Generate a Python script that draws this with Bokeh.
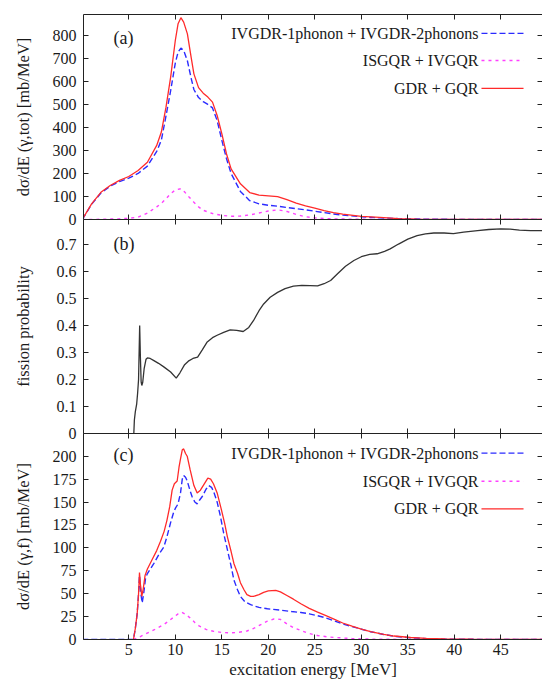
from bokeh.plotting import figure
from bokeh.layouts import column
from bokeh.models import Range1d, LinearAxis, FixedTicker, Label, CustomJSTickFormatter
from bokeh.embed import file_html
from bokeh.resources import INLINE

# ---------------- data ----------------
# panel (a): total photoabsorption cross section [mb/MeV]
A_E = [0, 1, 2, 3, 4, 5, 6, 7, 8, 8.5, 9, 9.5, 10, 10.3, 10.6, 10.9, 11.3, 11.7, 12.0,
       12.5, 13.0, 13.5, 14.0, 14.5, 15.0, 15.5, 16.0, 17.0, 18.0, 19.0, 20.0, 21.0,
       22.0, 23.0, 24.0, 25.0, 26.0, 27.0, 28.0, 30.0, 32.0, 34.0, 36.0, 40.0, 45.0, 49.5]
A_RED = [0, 68, 118, 148, 170, 187, 213, 249, 322, 380, 488, 619, 778, 851, 877, 858, 807,
         706, 633, 573, 549, 532, 510, 452, 373, 286, 220, 155, 117, 106, 103, 99,
         86, 71, 59, 49, 39, 30, 23, 14, 9, 4, 2, 0.5, 0, 0]
A_BLUE = [0, 66, 115, 145, 165, 180, 200, 232, 296, 345, 450, 560, 680, 728, 745, 735, 690,
          615, 565, 530, 512, 500, 485, 430, 345, 265, 200, 122, 82, 68, 62, 58,
          52, 47, 42, 36, 30, 24, 19, 12, 7, 4, 2, 0.5, 0, 0]
A_PINK_E = [0, 2, 4, 5, 6, 7, 8, 8.5, 9, 9.5, 10, 10.6, 11, 11.5, 12, 12.5, 13, 14, 15, 16,
            17, 18, 19, 20, 21, 22, 23, 24, 25, 26, 28, 30, 35, 49.5]
A_PINK = [0, 1, 3, 5, 10, 28, 55, 70, 90, 112, 128, 134, 120, 97, 75, 55, 40, 26, 18, 14,
          15, 20, 28, 37, 42, 35, 22, 12, 7, 4, 2, 1, 0, 0]

# panel (b): fission probability
B_E = [5.54, 5.6, 5.7, 5.85, 5.95, 6.05, 6.17, 6.25, 6.33, 6.4, 6.5, 6.65, 6.85, 7.0, 7.3,
       7.7, 8.2, 8.8, 9.5, 10.1, 10.5, 11.0, 11.4, 11.9, 12.4, 12.9, 13.4, 14.0, 14.5, 15.2,
       15.9, 16.6, 17.3, 17.9, 18.4, 19.0, 19.5, 20.2, 21.0, 21.8, 22.7, 23.6, 24.5, 25.3,
       26.0, 26.7, 27.5, 28.3, 29.2, 30.0, 30.9, 31.7, 32.5, 33.1, 34.0, 35.0, 36.0, 36.9,
       37.8, 38.9, 39.9, 41.0, 42.5, 43.7, 45.0, 46.0, 47.0, 48.2, 49.5]
B_P = [0.0, 0.05, 0.08, 0.11, 0.15, 0.2, 0.40, 0.28, 0.19, 0.178, 0.19, 0.24, 0.275, 0.28,
       0.278, 0.27, 0.26, 0.246, 0.228, 0.205, 0.225, 0.255, 0.268, 0.278, 0.283, 0.31,
       0.338, 0.355, 0.364, 0.375, 0.384, 0.382, 0.378, 0.393, 0.418, 0.455, 0.48, 0.505,
       0.523, 0.537, 0.546, 0.549, 0.548, 0.547, 0.555, 0.567, 0.594, 0.62, 0.641, 0.655,
       0.664, 0.666, 0.675, 0.684, 0.702, 0.72, 0.733, 0.74, 0.743, 0.743, 0.741, 0.746,
       0.752, 0.756, 0.758, 0.757, 0.754, 0.752, 0.752]

# panel (c): photofission cross section [mb/MeV]
C_RED_E = [5.5, 5.7, 5.9, 6.05, 6.15, 6.25, 6.4, 6.55, 6.75, 7.0, 7.5, 8.0, 8.4, 8.8, 9.1,
           9.4, 9.66, 9.9, 10.2, 10.4, 10.56, 10.75, 10.9, 11.1, 11.28, 11.6, 12.0, 12.35,
           12.7, 13.0, 13.5, 13.8, 14.1, 14.5, 14.9, 15.3, 15.6, 16.0, 16.3, 16.7, 17.0,
           17.4, 17.7, 18.1, 18.4, 19.0, 19.5, 20.0, 20.8, 21.3, 22.0, 22.7, 23.5, 24.4,
           25.3, 26.2, 27.0, 28.0, 29.0, 30.0, 31.0, 32.4, 33.5, 35.3, 37.0, 39.0, 42.0,
           46.0, 49.5]
C_RED = [0, 12, 28, 50, 73, 60, 47, 55, 70, 77, 87, 97, 107, 118, 130, 145, 163, 170, 173,
         188, 197, 207, 208, 203, 200, 185, 168, 160, 163, 168, 176, 175, 170, 160, 144,
         127, 112, 96, 83, 72, 62, 54, 49, 47, 47, 49, 51.5, 53, 53.5, 52, 48, 44, 39, 34,
         29.8, 26, 22.6, 18, 14.5, 11.3, 8.5, 5.5, 3.8, 2.2, 1.3, 0.7, 0.3, 0.1, 0]
C_BLUE_E = [0, 5.5, 5.7, 5.9, 6.05, 6.15, 6.3, 6.44, 6.6, 6.8, 7.0, 7.7, 8.3, 8.77, 9.1,
            9.48, 9.8, 10.0, 10.3, 10.56, 10.75, 10.9, 11.1, 11.28, 11.6, 11.8, 12.1,
            12.35, 12.6, 12.9, 13.3, 13.6, 13.9, 14.1, 14.5, 14.86, 15.2, 15.6, 16.0, 16.3,
            16.7, 17.0, 17.5, 18.1, 19.0, 19.9, 21.3, 22.5, 23.5, 24.4, 25.3, 26.2, 27.0,
            28.0, 29.0, 29.9, 31.0, 32.4, 33.8, 35.3, 37.0, 38.2, 42.0, 49.5]
C_BLUE = [0, 0, 12, 28, 50, 70, 50, 40, 50, 67, 72, 83, 94, 101, 112, 127, 138, 143, 148,
          160, 175, 179, 177, 173, 162, 156, 150, 148, 152, 156, 164, 168, 166, 162, 150,
          134, 116, 98, 80, 65, 54, 47, 41, 38, 35, 33.5, 32, 30.5, 29.5, 28, 26, 23.5,
          20.7, 17, 14, 11.6, 8.5, 5.5, 3.2, 1.8, 1.0, 0.5, 0.2, 0]
C_PINK_E = [5.5, 6.0, 6.98, 7.8, 8.77, 9.4, 9.84, 10.3, 10.7, 11.1, 11.6, 12.1, 12.6, 13.3,
            14.1, 15.0, 15.9, 16.8, 17.7, 18.4, 19.2, 19.9, 20.6, 21.3, 22.0, 22.7, 23.5,
            24.4, 25.3, 26.5, 27.8, 29.0, 30.6, 33.0, 49.5]
C_PINK = [0, 2, 7, 11, 16.3, 21, 24.5, 28, 29.7, 27.5, 23.5, 18.5, 14.5, 11, 9, 7.7, 7.2,
          7.8, 9.3, 12, 16.3, 20, 22.4, 22, 17, 13, 9.8, 6.5, 4.4, 2.7, 1.8, 1.0, 0.5, 0.2, 0]

X_TICKS = [5, 10, 15, 20, 25, 30, 35, 40, 45]
A_TICKS = [0, 100, 200, 300, 400, 500, 600, 700, 800]
B_TICKS = [0, 0.1, 0.2, 0.3, 0.4, 0.5, 0.6, 0.7]
C_TICKS = [0, 25, 50, 75, 100, 125, 150, 175, 200]

SERIES_LABELS = ["IVGDR-1phonon + IVGDR-2phonons", "ISGQR + IVGQR", "GDR + GQR"]
PANEL_TAGS = ["(a)", "(b)", "(c)"]

# ---------------- style ----------------
FONT = "Liberation Serif"
TXT = "#1a1a1a"
AX = "#222222"
RED = "#ff2a2a"
BLUE = "#2b2bff"
PINK = "#ff40ff"
BLUE_DASH = "6 3"
PINK_DASH = "3 4"

x_range = Range1d(0.13, 49.48)


def style_axis(ax, labels=True, line=True, ticks=None):
    if ticks is not None:
        ax.ticker = FixedTicker(ticks=ticks)
    ax.major_tick_in = 5
    ax.major_tick_out = 0
    ax.minor_tick_in = 0
    ax.minor_tick_out = 0
    ax.major_tick_line_color = AX
    ax.axis_line_color = AX if line else None
    ax.major_label_text_font = FONT
    ax.major_label_text_color = TXT
    ax.major_label_text_font_size = "16px"
    ax.axis_label_text_font = FONT
    ax.axis_label_text_font_style = "normal"
    ax.axis_label_text_color = TXT
    ax.axis_label_text_font_size = "16.5px"
    if labels:
        ax.major_label_standoff = 7
    else:
        ax.formatter = CustomJSTickFormatter(code="return ''")
        ax.major_label_standoff = 0


def make_panel(frame_h, y_end, yticks, ylabel, label_standoff, top_border, bottom_border,
               overlap, top_line, bottom_labels=False):
    p = figure(frame_width=459, frame_height=frame_h, x_range=x_range,
               y_range=Range1d(0, y_end), output_backend="svg", toolbar_location=None,
               min_border_left=83, min_border_right=0, min_border_top=top_border,
               min_border_bottom=bottom_border, x_axis_location=None,
               y_axis_location=None)
    if overlap:
        p.margin = (-overlap, 0, 0, 0)
        p.border_fill_color = None
        p.background_fill_color = None
    p.outline_line_color = None
    p.xgrid.grid_line_color = None
    p.ygrid.grid_line_color = None

    left = LinearAxis(axis_label=ylabel)
    style_axis(left, labels=True, ticks=yticks)
    left.axis_label_standoff = label_standoff
    p.add_layout(left, "left")

    bottom = LinearAxis()
    style_axis(bottom, labels=bottom_labels, ticks=X_TICKS)
    p.add_layout(bottom, "below")

    top = LinearAxis()
    style_axis(top, labels=False, line=top_line, ticks=X_TICKS)
    p.add_layout(top, "above")

    right = LinearAxis()
    style_axis(right, labels=False, line=False, ticks=yticks)
    p.add_layout(right, "right")
    return p, left, bottom


def add_tag(p, text, x, y):
    p.add_layout(Label(x=x, y=y, text=text, text_font=FONT, text_font_size="18px",
                       text_color=TXT, text_baseline="middle", text_align="left"))


def add_key(p, rows):
    styles = [(BLUE, BLUE_DASH), (PINK, PINK_DASH), (RED, "solid")]
    for name, ypos, (col, dash) in zip(SERIES_LABELS, rows, styles):
        p.add_layout(Label(x=42.6, y=ypos, text=name, text_font=FONT,
                           text_font_size="16px", text_color=TXT,
                           text_baseline="middle", text_align="right"))
        p.segment(x0=[42.92], y0=[ypos], x1=[47.44], y1=[ypos], line_color=col,
                  line_dash=dash, line_width=1.3)


# ---- panel (a)
pa, _, _ = make_panel(205, 891, A_TICKS, "dσ/dE (γ,tot) [mb/MeV]", 17, 14, 10, 0, True)
pa.line(A_E, A_BLUE, line_color=BLUE, line_dash=BLUE_DASH, line_width=1.4)
pa.line(A_PINK_E, A_PINK, line_color=PINK, line_dash=PINK_DASH, line_width=1.4)
pa.line(A_E, A_RED, line_color=RED, line_width=1.3)
add_tag(pa, PANEL_TAGS[0], 3.35, 791)
add_key(pa, [809, 691, 570])

# ---- panel (b)
pb, lb, _ = make_panel(214, 0.793, B_TICKS, "fission probability", 21, 0, 10, 10, False)
lb.major_label_overrides = {0: "0"}
pb.line(B_E, B_P, line_color="#333333", line_width=1.3)
add_tag(pb, PANEL_TAGS[1], 3.35, 0.704)

# ---- panel (c)
pc, _, bc = make_panel(206, 224.8, C_TICKS, "dσ/dE (γ,f) [mb/MeV]", 17, 0, 41, 10, False,
                       bottom_labels=True)
bc.major_label_standoff = 4
bc.axis_label = "excitation energy [MeV]"
bc.axis_label_standoff = 2
bc.axis_label_text_font_size = "17px"
pc.line(C_BLUE_E, C_BLUE, line_color=BLUE, line_dash=BLUE_DASH, line_width=1.4)
pc.line(C_PINK_E, C_PINK, line_color=PINK, line_dash=PINK_DASH, line_width=1.4)
pc.line(C_RED_E, C_RED, line_color=RED, line_width=1.3)
add_tag(pc, PANEL_TAGS[2], 3.35, 200.8)
add_key(pc, [203.3, 172.7, 142.6])

layout = column(pa, pb, pc, spacing=0)
open("out.html", "w").write(file_html(layout, INLINE))
